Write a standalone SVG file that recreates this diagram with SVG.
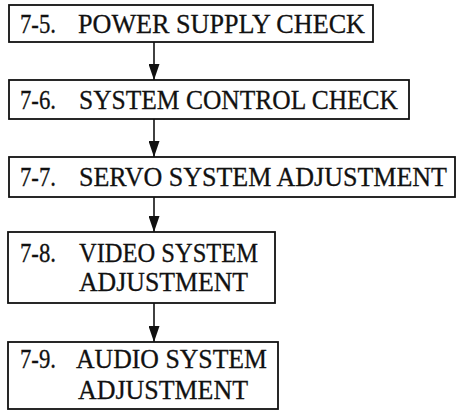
<svg xmlns="http://www.w3.org/2000/svg" width="457" height="411" viewBox="0 0 457 411">
<style>
rect.box{fill:#fff;stroke:#111;stroke-width:1.8}
text{font-family:"Liberation Serif","Times New Roman",serif;font-size:27.5px;fill:#111;stroke:#111;stroke-width:0.3}
line.c{stroke:#111;stroke-width:1.6}
</style>
<defs>
<marker id="arr" markerWidth="16" markerHeight="11" refX="16" refY="5.5" orient="auto" markerUnits="userSpaceOnUse" viewBox="0 0 16 11">
<path d="M0,0 L16,5.5 L0,11 Z" fill="#111"/>
</marker>
</defs>
<rect width="457" height="411" fill="#fff"/>
<g id="connectors">
<line class="c" x1="154" y1="42" x2="154" y2="80" marker-end="url(#arr)"/>
<line class="c" x1="154" y1="119" x2="154" y2="157" marker-end="url(#arr)"/>
<line class="c" x1="154" y1="197" x2="154" y2="232" marker-end="url(#arr)"/>
<line class="c" x1="154" y1="303" x2="154" y2="342" marker-end="url(#arr)"/>
</g>
<g id="n75">
<rect class="box" x="9" y="5" width="364" height="37"/>
<text x="20" y="33" textLength="36" lengthAdjust="spacingAndGlyphs">7-5.</text>
<text x="78" y="33" textLength="287" lengthAdjust="spacingAndGlyphs">POWER SUPPLY CHECK</text>
</g>
<g id="n76">
<rect class="box" x="9" y="80" width="400" height="39"/>
<text x="20" y="109" textLength="36" lengthAdjust="spacingAndGlyphs">7-6.</text>
<text x="79" y="109" textLength="319" lengthAdjust="spacingAndGlyphs">SYSTEM CONTROL CHECK</text>
</g>
<g id="n77">
<rect class="box" x="9" y="157" width="446" height="40"/>
<text x="20" y="186" textLength="36" lengthAdjust="spacingAndGlyphs">7-7.</text>
<text x="79" y="186" textLength="368" lengthAdjust="spacingAndGlyphs">SERVO SYSTEM ADJUSTMENT</text>
</g>
<g id="n78">
<rect class="box" x="8" y="232" width="267" height="71"/>
<text x="20" y="262" textLength="36" lengthAdjust="spacingAndGlyphs">7-8.</text>
<text x="79" y="262" textLength="179" lengthAdjust="spacingAndGlyphs">VIDEO SYSTEM</text>
<text x="79" y="291" textLength="169" lengthAdjust="spacingAndGlyphs">ADJUSTMENT</text>
</g>
<g id="n79">
<rect class="box" x="8" y="342" width="270" height="67"/>
<text x="20" y="368" textLength="36" lengthAdjust="spacingAndGlyphs">7-9.</text>
<text x="76" y="368" textLength="191" lengthAdjust="spacingAndGlyphs">AUDIO SYSTEM</text>
<text x="78" y="399" textLength="170" lengthAdjust="spacingAndGlyphs">ADJUSTMENT</text>
</g>
</svg>
